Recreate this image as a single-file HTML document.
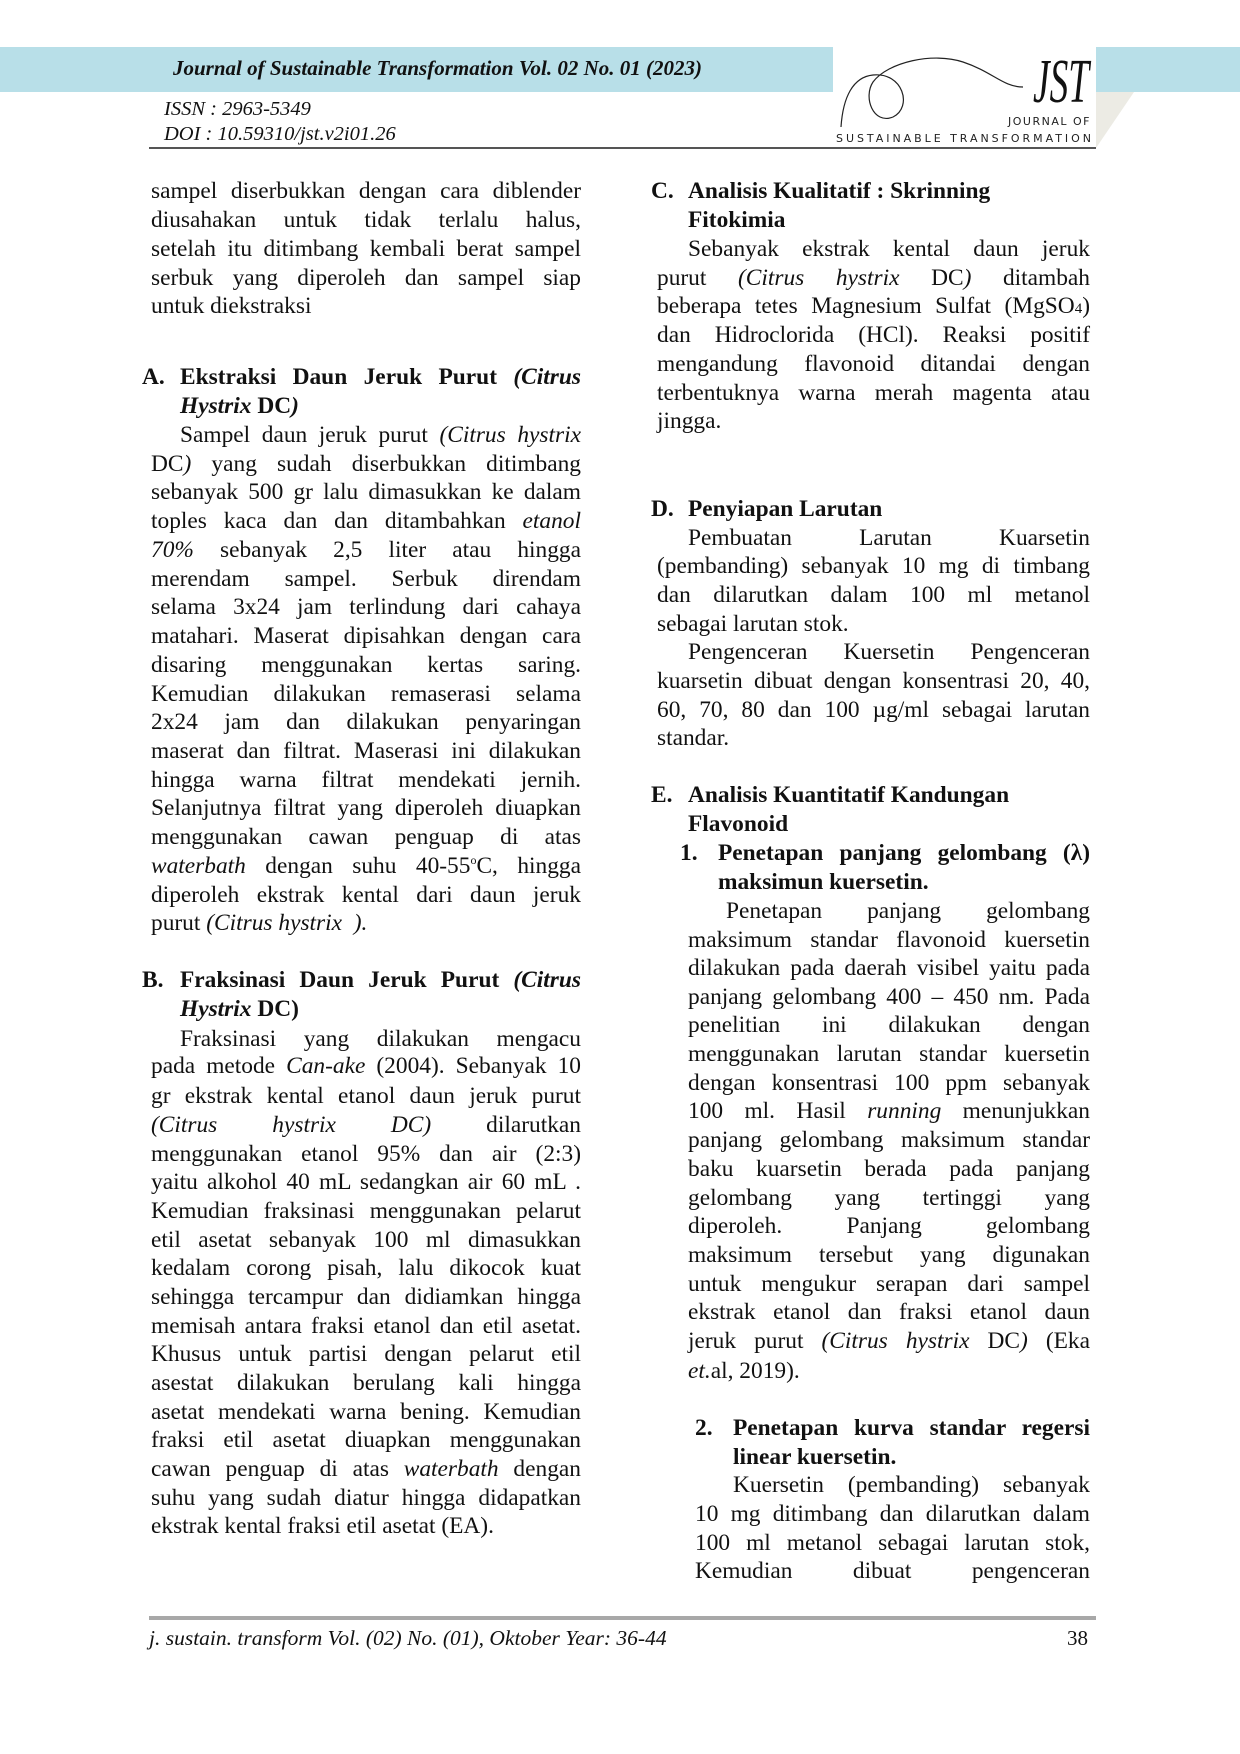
<!DOCTYPE html>
<html><head><meta charset="utf-8">
<style>
html,body{margin:0;padding:0;background:#fff}
#p{position:relative;width:1240px;height:1754px;overflow:hidden;font-family:"Liberation Serif",serif;color:#111}
.t{position:absolute;top:calc(var(--y)*1.118px - 14px);font-size:23.4px;line-height:30px;white-space:nowrap}
.t sup{line-height:0}
.j{text-align:justify;text-align-last:justify}
.b{font-weight:bold}
.L{left:151px;width:430px}
.Li{left:180px;width:401px}
.Lh{left:142px}
.R{left:657px;width:433px}
.Ri{left:688px;width:402px}
.Rh{left:651px}
.S1n{left:680px}
.S1h{left:718px;width:372px}
.S1{left:688px;width:402px}
.S1p{left:726px;width:364px}
.S2n{left:695px}
.S2{left:733px;width:357px}
.S2b{left:695px;width:395px}
</style></head><body><div id="p">
<div style="position:absolute;left:0;top:47px;width:833px;height:45px;background:#b8dfe8"></div>
<div style="position:absolute;left:1096px;top:47px;width:144px;height:45px;background:#b8dfe8"></div>
<svg style="position:absolute;left:1096px;top:92px" width="40" height="56"><polygon points="0,0 38,0 0,56" fill="#ecebe4"/></svg>
<div style="position:absolute;left:173px;top:56px;font-size:21px;font-style:italic;font-weight:bold">Journal of Sustainable Transformation Vol. 02 No. 01 (2023)</div>
<div style="position:absolute;left:164px;top:98px;font-size:20.5px;font-style:italic">ISSN : 2963-5349</div>
<div style="position:absolute;left:164px;top:123px;font-size:20.5px;font-style:italic">DOI : 10.59310/jst.v2i01.26</div>
<div style="position:absolute;left:149px;top:147px;width:947px;height:2px;background:#555"></div>
<svg style="position:absolute;left:833px;top:47px" width="263" height="100">
<path d="M8,80 C10,50 20,30 40,28 C70,25 80,60 60,70 C40,78 30,50 40,35 C55,15 100,5 130,15 C160,25 170,40 190,40" fill="none" stroke="#222" stroke-width="1.2"/>
<text x="200" y="55" font-family="Liberation Serif" font-style="italic" font-size="62" fill="#111" textLength="56" lengthAdjust="spacingAndGlyphs">JST</text>
<text x="258" y="78" text-anchor="end" font-family="DejaVu Sans" font-size="11" letter-spacing="1.5" fill="#222">JOURNAL OF</text>
<text x="3" y="95" font-family="DejaVu Sans" font-size="11" fill="#222" textLength="255" lengthAdjust="spacing">SUSTAINABLE TRANSFORMATION</text>
</svg>
<div class="t L j" style="--y:170">sampel diserbukkan dengan cara diblender</div>
<div class="t L j" style="--y:196">diusahakan untuk tidak terlalu halus,</div>
<div class="t L j" style="--y:222">setelah itu ditimbang kembali berat sampel</div>
<div class="t L j" style="--y:248">serbuk yang diperoleh dan sampel siap</div>
<div class="t L" style="--y:273">untuk diekstraksi</div>
<div class="t Lh b" style="--y:336">A.</div>
<div class="t Li b j" style="--y:336">Ekstraksi Daun Jeruk Purut <i>(Citrus</i></div>
<div class="t Li b" style="--y:362"><i>Hystrix</i> DC<i>)</i></div>
<div class="t Li j" style="--y:388">Sampel daun jeruk purut <i>(Citrus hystrix</i></div>
<div class="t L j" style="--y:414">DC<i>)</i> yang sudah diserbukkan ditimbang</div>
<div class="t L j" style="--y:439">sebanyak 500 gr lalu dimasukkan ke dalam</div>
<div class="t L j" style="--y:465">toples kaca dan dan ditambahkan <i>etanol</i></div>
<div class="t L j" style="--y:491"><i>70%</i> sebanyak 2,5 liter atau hingga</div>
<div class="t L j" style="--y:517">merendam sampel. Serbuk direndam</div>
<div class="t L j" style="--y:542">selama 3x24 jam terlindung dari cahaya</div>
<div class="t L j" style="--y:568">matahari. Maserat dipisahkan dengan cara</div>
<div class="t L j" style="--y:594">disaring menggunakan kertas saring.</div>
<div class="t L j" style="--y:620">Kemudian dilakukan remaserasi selama</div>
<div class="t L j" style="--y:645">2x24 jam dan dilakukan penyaringan</div>
<div class="t L j" style="--y:671">maserat dan filtrat. Maserasi ini dilakukan</div>
<div class="t L j" style="--y:697">hingga warna filtrat mendekati jernih.</div>
<div class="t L j" style="--y:722">Selanjutnya filtrat yang diperoleh diuapkan</div>
<div class="t L j" style="--y:748">menggunakan cawan penguap di atas</div>
<div class="t L j" style="--y:774"><i>waterbath</i> dengan suhu 40-55<sup style="font-size:12px">o</sup>C, hingga</div>
<div class="t L j" style="--y:800">diperoleh ekstrak kental dari daun jeruk</div>
<div class="t L" style="--y:825">purut <i>(Citrus hystrix&nbsp;&nbsp;).</i></div>
<div class="t Lh b" style="--y:876">B.</div>
<div class="t Li b j" style="--y:876">Fraksinasi Daun Jeruk Purut <i>(Citrus</i></div>
<div class="t Li b" style="--y:902"><i>Hystrix</i> DC)</div>
<div class="t Li j" style="--y:928">Fraksinasi yang dilakukan mengacu</div>
<div class="t L j" style="--y:953">pada metode <i>Can-ake</i> (2004). Sebanyak 10</div>
<div class="t L j" style="--y:979">gr ekstrak kental etanol daun jeruk purut</div>
<div class="t L j" style="--y:1005"><i>(Citrus hystrix DC)</i> dilarutkan</div>
<div class="t L j" style="--y:1031">menggunakan etanol 95% dan air (2:3)</div>
<div class="t L j" style="--y:1056">yaitu alkohol 40 mL sedangkan air 60 mL .</div>
<div class="t L j" style="--y:1082">Kemudian fraksinasi menggunakan pelarut</div>
<div class="t L j" style="--y:1108">etil asetat sebanyak 100 ml dimasukkan</div>
<div class="t L j" style="--y:1133">kedalam corong pisah, lalu dikocok kuat</div>
<div class="t L j" style="--y:1159">sehingga tercampur dan didiamkan hingga</div>
<div class="t L j" style="--y:1185">memisah antara fraksi etanol dan etil asetat.</div>
<div class="t L j" style="--y:1210">Khusus untuk partisi dengan pelarut etil</div>
<div class="t L j" style="--y:1236">asestat dilakukan berulang kali hingga</div>
<div class="t L j" style="--y:1262">asetat mendekati warna bening. Kemudian</div>
<div class="t L j" style="--y:1287">fraksi etil asetat diuapkan menggunakan</div>
<div class="t L j" style="--y:1313">cawan penguap di atas <i>waterbath</i> dengan</div>
<div class="t L j" style="--y:1339">suhu yang sudah diatur hingga didapatkan</div>
<div class="t L" style="--y:1364">ekstrak kental fraksi etil asetat (EA).</div>
<div class="t Rh b" style="--y:170">C.</div>
<div class="t Ri b" style="--y:170">Analisis Kualitatif : Skrinning</div>
<div class="t Ri b" style="--y:196">Fitokimia</div>
<div class="t Ri j" style="--y:222">Sebanyak ekstrak kental daun jeruk</div>
<div class="t R j" style="--y:248">purut <i>(Citrus hystrix</i> DC<i>)</i> ditambah</div>
<div class="t R j" style="--y:273">beberapa tetes Magnesium Sulfat (MgSO<span style="font-size:15px">4</span>)</div>
<div class="t R j" style="--y:299">dan Hidroclorida (HCl). Reaksi positif</div>
<div class="t R j" style="--y:325">mengandung flavonoid ditandai dengan</div>
<div class="t R j" style="--y:351">terbentuknya warna merah magenta atau</div>
<div class="t R" style="--y:376">jingga.</div>
<div class="t Rh b" style="--y:454">D.</div>
<div class="t Ri b" style="--y:454">Penyiapan Larutan</div>
<div class="t Ri j" style="--y:480">Pembuatan Larutan Kuarsetin</div>
<div class="t R j" style="--y:505">(pembanding) sebanyak 10 mg di timbang</div>
<div class="t R j" style="--y:531">dan dilarutkan dalam 100 ml metanol</div>
<div class="t R" style="--y:557">sebagai larutan stok.</div>
<div class="t Ri j" style="--y:582">Pengenceran Kuersetin Pengenceran</div>
<div class="t R j" style="--y:608">kuarsetin dibuat dengan konsentrasi 20, 40,</div>
<div class="t R j" style="--y:634">60, 70, 80 dan 100 µg/ml sebagai larutan</div>
<div class="t R" style="--y:659">standar.</div>
<div class="t Rh b" style="--y:710">E.</div>
<div class="t Ri b" style="--y:710">Analisis Kuantitatif Kandungan</div>
<div class="t Ri b" style="--y:736">Flavonoid</div>
<div class="t S1n b" style="--y:762">1.</div>
<div class="t S1h b j" style="--y:762">Penetapan panjang gelombang (λ)</div>
<div class="t S1h b" style="--y:788">maksimun kuersetin.</div>
<div class="t S1p j" style="--y:814">Penetapan panjang gelombang</div>
<div class="t S1 j" style="--y:840">maksimum standar flavonoid kuersetin</div>
<div class="t S1 j" style="--y:865">dilakukan pada daerah visibel yaitu pada</div>
<div class="t S1 j" style="--y:891">panjang gelombang 400 – 450 nm. Pada</div>
<div class="t S1 j" style="--y:916">penelitian ini dilakukan dengan</div>
<div class="t S1 j" style="--y:942">menggunakan larutan standar kuersetin</div>
<div class="t S1 j" style="--y:968">dengan konsentrasi 100 ppm sebanyak</div>
<div class="t S1 j" style="--y:993">100 ml. Hasil <i>running</i> menunjukkan</div>
<div class="t S1 j" style="--y:1019">panjang gelombang maksimum standar</div>
<div class="t S1 j" style="--y:1045">baku kuarsetin berada pada panjang</div>
<div class="t S1 j" style="--y:1071">gelombang yang tertinggi yang</div>
<div class="t S1 j" style="--y:1096">diperoleh. Panjang gelombang</div>
<div class="t S1 j" style="--y:1122">maksimum tersebut yang digunakan</div>
<div class="t S1 j" style="--y:1148">untuk mengukur serapan dari sampel</div>
<div class="t S1 j" style="--y:1173">ekstrak etanol dan fraksi etanol daun</div>
<div class="t S1 j" style="--y:1199">jeruk purut <i>(Citrus hystrix</i> DC<i>)</i> (Eka</div>
<div class="t S1" style="--y:1225"><i>et.</i>al, 2019).</div>
<div class="t S2n b" style="--y:1276">2.</div>
<div class="t S2 b j" style="--y:1276">Penetapan kurva standar regersi</div>
<div class="t S2 b" style="--y:1302">linear kuersetin.</div>
<div class="t S2 j" style="--y:1327">Kuersetin (pembanding) sebanyak</div>
<div class="t S2b j" style="--y:1353">10 mg ditimbang dan dilarutkan dalam</div>
<div class="t S2b j" style="--y:1379">100 ml metanol sebagai larutan stok,</div>
<div class="t S2b j" style="--y:1404">Kemudian dibuat pengenceran</div>
<div style="position:absolute;left:149px;top:1616px;width:947px;height:4px;background:#a8a8a8"></div>
<div style="position:absolute;left:149px;top:1626px;font-size:21.5px;font-style:italic">j. sustain. transform Vol. (02) No. (01), Oktober Year: 36-44</div>
<div style="position:absolute;left:1067px;top:1626px;font-size:21px">38</div>
</div></body></html>
